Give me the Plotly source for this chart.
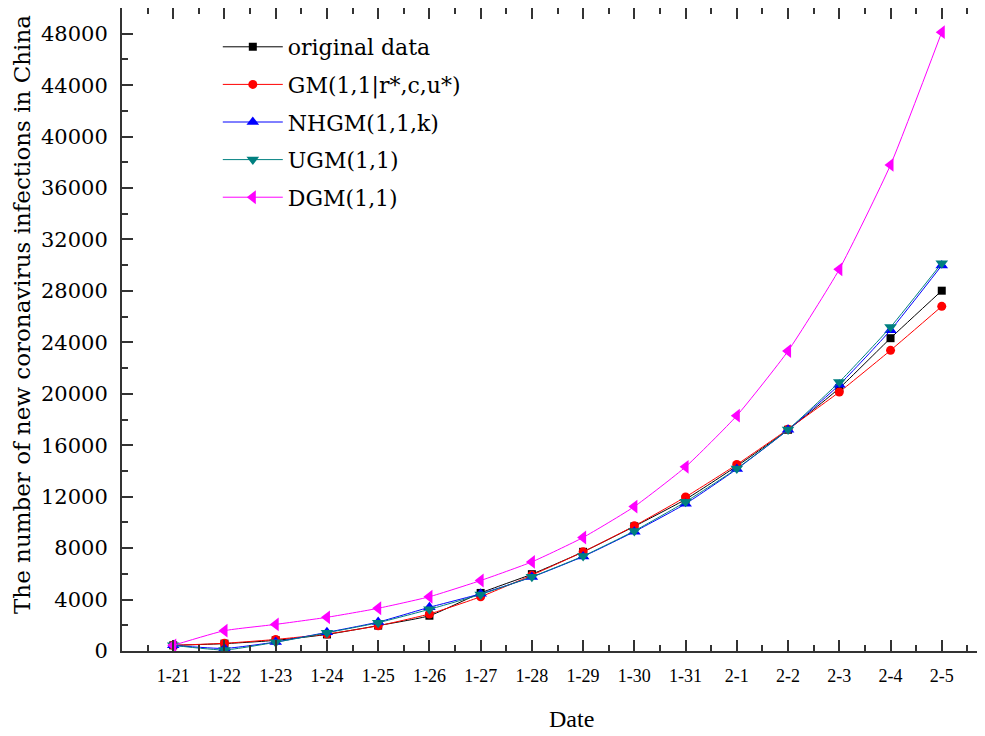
import plotly.graph_objects as go

dates = ['1-21', '1-22', '1-23', '1-24', '1-25', '1-26', '1-27', '1-28',
         '1-29', '1-30', '1-31', '2-1', '2-2', '2-3', '2-4', '2-5']
original = [440, 571, 830, 1287, 1975, 2744, 4515, 5974, 7711, 9692, 11791,
            14380, 17205, 20438, 24324, 28018]
gm_r = [440, 600, 900, 1320, 1960, 2880, 4220, 5900, 7710, 9730, 11980,
        14500, 17250, 20140, 23380, 26800]
nhgm = [440, 200, 700, 1450, 2250, 3400, 4450, 5750, 7350, 9280, 11450,
        14150, 17200, 20700, 24950, 29980]
ugm = [440, 80, 680, 1420, 2200, 3240, 4400, 5770, 7380, 9340, 11600,
       14190, 17220, 20920, 25190, 30160]
dgm = [440, 1580, 2070, 2620, 3320, 4220, 5480, 6930, 8830, 11230, 14320,
       18300, 23330, 29680, 37800, 48120]

series = [
    ('original data', original, '#000000', 'square', 8),
    ('GM(1,1|r*,c,u*)', gm_r, '#FF0000', 'circle', 9),
    ('NHGM(1,1,k)', nhgm, '#0000FF', 'triangle-up', 11),
    ('UGM(1,1)', ugm, '#008080', 'triangle-down', 11),
    ('DGM(1,1)', dgm, '#FF00FF', 'triangle-left', 12),
]

xpos = list(range(len(dates)))

fig = go.Figure()
for i, (name, vals, color, sym, size) in enumerate(series):
    fig.add_trace(go.Scatter(
        x=xpos, y=vals, name=name, mode='lines+markers',
        line=dict(color=color, width=1, shape='spline', smoothing=0.5),
        marker=dict(symbol=sym, size=size, color=color),
        legendgroup=f'g{i}',
    ))

font_serif = 'DejaVu Serif'

fig.update_layout(
    width=985, height=736,
    paper_bgcolor='white', plot_bgcolor='white',
    margin=dict(l=114, r=0, t=0, b=93, autoexpand=False),
    showlegend=True,
    legend=dict(
        x=0.11, y=0.972, xanchor='left', yanchor='top',
        bgcolor='rgba(0,0,0,0)', borderwidth=0,
        font=dict(family=font_serif, size=22, color='#000000'),
        tracegroupgap=6, itemwidth=60,
    ),
    xaxis=dict(
        range=[-1, 16], tickmode='array', tickvals=xpos, ticktext=dates,
        ticks='inside', ticklen=11, tickwidth=2, tickcolor='#333333',
        showline=True, linewidth=2, linecolor='#333333', mirror='ticks',
        showgrid=False, zeroline=False, automargin=False,
        minor=dict(ticks='inside', ticklen=6, tickwidth=2, tickcolor='#333333',
                   tick0=0.5, dtick=1, showgrid=False),
        tickfont=dict(family='Liberation Serif', size=18, color='#000000'),
        ticklabelstandoff=7,
    ),
    yaxis=dict(
        range=[0, 50000], tick0=0, dtick=4000, tickformat='d',
        ticks='inside', ticklen=11, tickwidth=2, tickcolor='#333333',
        showline=True, linewidth=2, linecolor='#333333', mirror='ticks',
        showgrid=False, zeroline=False, automargin=False,
        minor=dict(ticks='inside', ticklen=6, tickwidth=2, tickcolor='#333333',
                   dtick=2000, showgrid=False),
        tickfont=dict(family=font_serif, size=21, color='#000000'),
        ticklabelstandoff=8,
    ),
    annotations=[
        dict(text='The number of new coronavirus infections in China',
             xref='paper', yref='paper', x=-0.1148, y=0.5226,
             xanchor='center', yanchor='middle', textangle=-90, showarrow=False,
             font=dict(family=font_serif, size=23, color='#000000')),
        dict(text='Date', xref='paper', yref='paper', x=0.5166, y=-0.1058,
             xanchor='center', yanchor='middle', showarrow=False,
             font=dict(family='Liberation Serif', size=24, color='#000000')),
    ],
)

fig.write_html('out.html')
